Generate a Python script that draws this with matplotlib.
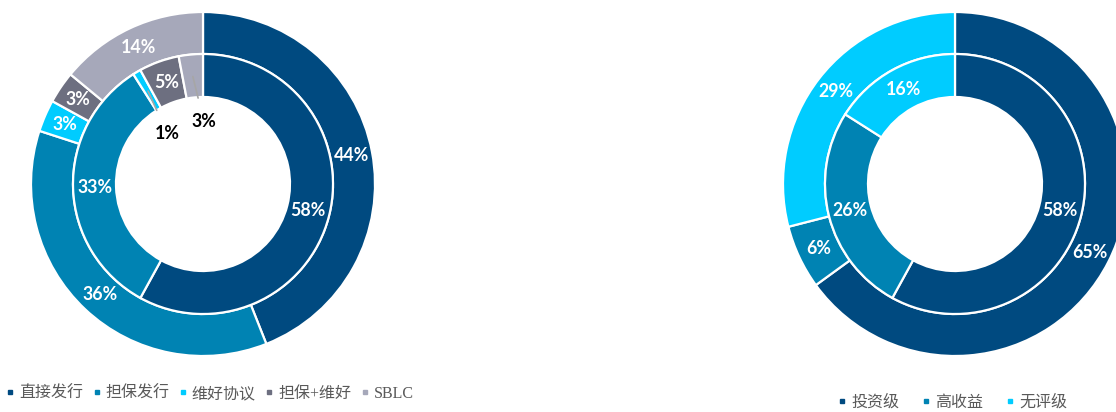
import numpy as np
import matplotlib.pyplot as plt
from matplotlib.lines import Line2D

# left chart: issuance structure
left_labels = ['直接发行', '担保发行', '维好协议', '担保+维好', 'SBLC']
left_outer = [44, 36, 3, 3, 14]
left_inner = [58, 33, 1, 5, 3]
left_colors = ['#004A80', '#0083B3', '#00CCFF', '#6D6F80', '#A6A8BA']

# right chart: rating
right_labels = ['投资级', '高收益', '无评级']
right_outer = [65, 6, 29]
right_inner = [58, 26, 16]
right_colors = ['#004A80', '#0083B3', '#00CCFF']

W, H = 1116, 412
fig = plt.figure(figsize=(W / 100, H / 100), dpi=100)
ax = fig.add_axes([0, 0, 1, 1])

lab_font = dict(family=['Lato', 'DejaVu Sans'], fontweight='bold', fontsize=12.8)


def mid_xy(cx, cy, vals, i, r):
    start = sum(vals[:i]) / 100 * 360
    ang = np.deg2rad(start + vals[i] / 100 * 360 / 2)
    return cx + r * np.sin(ang), cy + r * np.cos(ang)


def donut(cx, cy, outer, inner, colors, small_inner=()):
    cy = H - cy
    wp = dict(edgecolor='white', linewidth=1.6)
    ax.pie(outer, colors=colors, radius=172, center=(cx, cy), startangle=90,
           counterclock=False, wedgeprops=dict(width=42, **wp), frame=True)
    ax.pie(inner, colors=colors, radius=130, center=(cx, cy), startangle=90,
           counterclock=False, wedgeprops=dict(width=43, **wp), frame=True)
    for i in range(len(outer)):
        x, y = mid_xy(cx, cy, outer, i, 151)
        ax.text(x, y, f'{outer[i]}%', color='white', ha='center', va='center', **lab_font)
    for i in range(len(inner)):
        if i in small_inner:
            continue
        x, y = mid_xy(cx, cy, inner, i, 108)
        ax.text(x, y, f'{inner[i]}%', color='white', ha='center', va='center', **lab_font)
    return cy


cy = donut(203, 184, left_outer, left_inner, left_colors, small_inner=(2, 4))
# small inner slices labelled inside the hole with leader lines
offsets = {2: (19, -42), 4: (11, -45)}
for i, (dx, dy) in offsets.items():
    x, y = mid_xy(203, cy, left_inner, i, 108)
    ax.annotate(f'{left_inner[i]}%', xy=(x, y), xytext=(x + dx, y + dy),
                ha='center', va='center', color='black',
                arrowprops=dict(arrowstyle='-', color='#A6A6A6', lw=1.2,
                                shrinkA=9, shrinkB=0), **lab_font)

donut(955, 184, right_outer, right_inner, right_colors)

ax.set_xlim(0, W)
ax.set_ylim(0, H)
ax.axis('off')

leg_font = dict(family=['Liberation Serif', 'Noto Sans CJK SC'], size=11.5)


def legend(labels, colors, x, y, spacing):
    handles = [Line2D([], [], marker='s', linestyle='', markersize=3.2,
                      color=c) for c in colors]
    lg = fig.legend(handles, labels, loc='center left', ncol=len(labels),
                    bbox_to_anchor=(x / W, 1 - y / H), frameon=False,
                    handlelength=0.4, handletextpad=0.35, columnspacing=spacing,
                    prop=leg_font, borderaxespad=0, borderpad=0)
    for t in lg.get_texts():
        t.set_color('#595959')


legend(left_labels, left_colors, 7, 394, 0.65)
legend(right_labels, right_colors, 839, 403, 1.5)

fig.savefig('out.png', dpi=100)
